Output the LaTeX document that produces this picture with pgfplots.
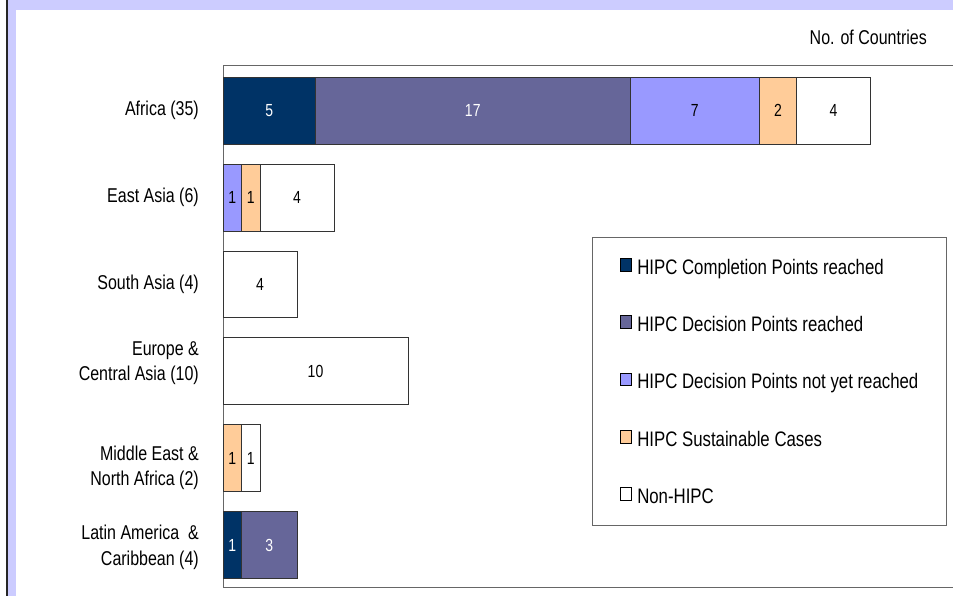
\documentclass[border=0pt]{standalone}
\usepackage{pgfplots}
\pgfplotsset{compat=1.18}
\usepackage{fontspec}
\setmainfont{Liberation Sans}[FakeStretch=0.8]
\definecolor{navy}{RGB}{0,51,102}
\definecolor{slate}{RGB}{102,102,153}
\definecolor{periw}{RGB}{153,153,255}
\definecolor{peach}{RGB}{255,204,153}
\definecolor{lav}{RGB}{204,204,255}
\newcommand\lblfont{\fontsize{20}{25.5}\selectfont}
\newcommand\numfont{\fontsize{17.5}{20}\selectfont}
\newcommand\legfont{\fontsize{21}{24}\selectfont}

\pgfplotsset{
  chartbase/.style={
    scale only axis, width=730pt, height=522pt,
    at={(223pt,9pt)}, anchor=south west,
    xmin=0, xmax=39.46, ymin=-0.525, ymax=5.483,
    y dir=reverse,
  },
  seg/.style={fill=#1, draw=black!80, line width=0.8pt},
}

\begin{document}
\begin{tikzpicture}[x=1pt,y=1pt]
% page frame
\fill[white] (0,0) rectangle (953,596);
\fill[lav] (8,586) rectangle (953,596);
\fill[lav] (8,0) rectangle (16,596);
\fill[black!85] (5.5,0) rectangle (8,596);
\node[anchor=east, font=\lblfont, inner sep=0pt] at (927,559) {No. of Countries};

\begin{axis}[
    chartbase,
    xbar stacked,
    bar width=0.77,
    axis x line*=box,
    axis y line*=left,
    axis line style={-, draw=black!60, line width=0.9pt},
    xtick=\empty,
    ytick={0,...,5},
    major tick length=0pt,
    yticklabels={Africa (35), East Asia (6), South Asia (4),
      Europe \&\\Central Asia (10), Middle East \&\\North Africa (2),
      Latin America \ \&\\Caribbean (4)},
    yticklabel style={align=right, font=\lblfont, inner sep=0pt, xshift=-24pt,
      yshift={8*(\ticknum==3)-9.5*(\ticknum==4)-2.5*(\ticknum==5)}},
    legend style={at={(0.5055,0.6705)}, anchor=north west,
      draw=black!60, line width=0.9pt, font=\legfont,
      inner xsep=28pt, inner ysep=20pt, row sep=39pt, column sep=5pt,
      cells={anchor=west}, nodes={inner sep=0pt}},
    legend image code/.code={\draw[#1, draw=black, line width=0.8pt] (0pt,-4.5pt) rectangle (11pt,8.3pt);},
  ]
  % Africa, East Asia, South Asia, Europe & CA, MENA, LAC
  \addplot[seg=navy]  coordinates {(5,0) (0,1) (0,2) (0,3) (0,4) (1,5)};
  \addplot[seg=slate] coordinates {(17,0) (0,1) (0,2) (0,3) (0,4) (3,5)};
  \addplot[seg=periw] coordinates {(7,0) (1,1) (0,2) (0,3) (0,4) (0,5)};
  \addplot[seg=peach] coordinates {(2,0) (1,1) (0,2) (0,3) (1,4) (0,5)};
  \addplot[seg=white] coordinates {(4,0) (4,1) (4,2) (10,3) (1,4) (0,5)};
  \addlegendentry{\strut HIPC Completion Points reached}
  \addlegendentry{\strut HIPC Decision Points reached}
  \addlegendentry{\strut HIPC Decision Points not yet reached}
  \addlegendentry{\strut HIPC Sustainable Cases}
  \addlegendentry{\strut Non-HIPC}
\end{axis}

% segment values, at the middle of each segment
\begin{axis}[
    chartbase,
    hide axis,
    every node near coord/.append style={anchor=center, font=\numfont},
  ]
  \addplot[draw=none, mark=none, nodes near coords, point meta=explicit symbolic,
    every node near coord/.append style={text=white}]
    coordinates {(2.5,0) [5] (13.5,0) [17] (0.5,5) [1] (2.5,5) [3]};
  \addplot[draw=none, mark=none, nodes near coords, point meta=explicit symbolic,
    every node near coord/.append style={text=black}]
    coordinates {(25.5,0) [7] (30,0) [2] (33,0) [4]
      (0.5,1) [1] (1.5,1) [1] (4,1) [4] (2,2) [4] (5,3) [10]
      (0.5,4) [1] (1.5,4) [1]};
\end{axis}
\pgfresetboundingbox
\useasboundingbox (0,0) rectangle (953,596);
\end{tikzpicture}
\end{document}
